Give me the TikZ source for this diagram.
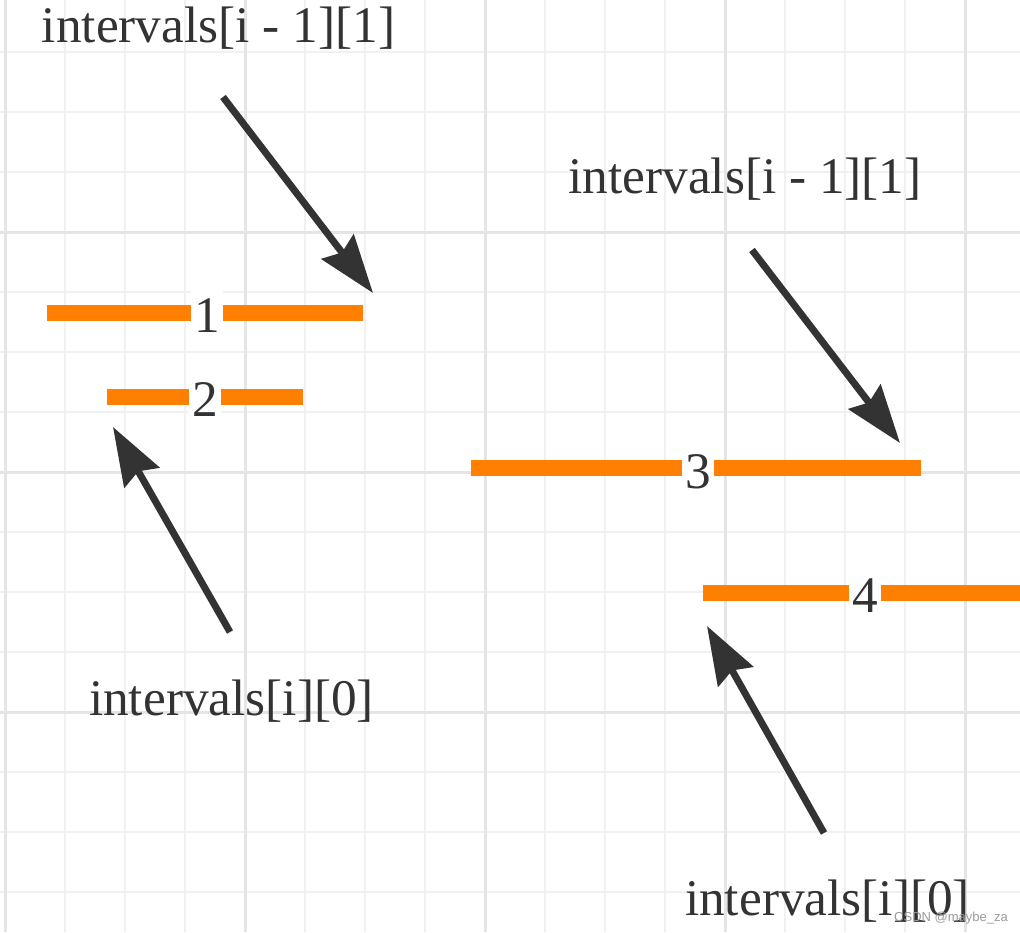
\documentclass[tikz,border=0pt]{standalone}
\usepackage{fontspec}
\setmainfont{Liberation Serif}
\newfontfamily\wmfont{Liberation Sans}
\usetikzlibrary{arrows.meta}
\definecolor{barorange}{HTML}{FF8000}
\definecolor{ink}{HTML}{333333}
\definecolor{gridminor}{HTML}{F1F1F1}
\definecolor{gridmajor}{HTML}{E5E5E5}
\definecolor{wmgray}{HTML}{9A9A9A}
\begin{document}
\begin{tikzpicture}[x=1pt,y=-1pt,
  minorline/.style={draw=gridminor, line width=2pt},
  majorline/.style={draw=gridmajor, line width=3pt},
  bar/.style={draw=barorange, line width=16pt},
  lbl/.style={fill=white, text=ink, font=\fontsize{51.3}{60}\selectfont,
    inner xsep=0pt, inner ysep=16pt, minimum width=32pt},
  caption/.style={text=ink, font=\fontsize{51.3}{60}\selectfont, anchor=base, inner sep=0pt},
  watermark/.style={text=wmgray, font=\wmfont\fontsize{13}{15}\selectfont, anchor=base, inner sep=0pt},
  pointer/.style={draw=ink, line width=7pt,
    -{Stealth[length=58pt,width=40pt,inset=7pt]}},
]
\useasboundingbox (0,0) rectangle (1020,932);
\fill[white] (0,0) rectangle (1020,932);
% grid
\foreach \x in {65,125,185,305,365,425,545,605,665,785,845,905}
  \draw[minorline] (\x,0) -- (\x,932);
\foreach \y in {52,112,172,292,352,412,532,592,652,772,832,892}
  \draw[minorline] (0,\y) -- (1020,\y);
\foreach \x in {5,245,485,725,965}
  \draw[majorline] (\x,0) -- (\x,932);
\foreach \y in {232,472,712}
  \draw[majorline] (0,\y) -- (1020,\y);

% intervals (orange bars)
\coordinate (b1l) at (47,313);  \coordinate (b1r) at (363,313);
\coordinate (b2l) at (107,396.5); \coordinate (b2r) at (303,396.5);
\coordinate (b3l) at (471,468); \coordinate (b3r) at (921,468);
\coordinate (b4l) at (703,593); \coordinate (b4r) at (1020,593);
\draw[bar] (b1l) -- (b1r);
\draw[bar] (b2l) -- (b2r);
\draw[bar] (b3l) -- (b3r);
\draw[bar] (b4l) -- (b4r);
\node[lbl] (n1) at (207,316) {1};
\node[lbl] (n2) at (205,400) {2};
\node[lbl] (n3) at (698,472) {3};
\node[lbl] (n4) at (865,596) {4};

% captions
\node[caption] (t1) at (218.5,42) {intervals[i - 1][1]};
\node[caption] (t2) at (745,193) {intervals[i - 1][1]};
\node[caption] (t3) at (231.5,715) {intervals[i][0]};
\node[caption] (t4) at (827.5,915) {intervals[i][0]};

% pointers
\coordinate (p1s) at (223,97);  \coordinate (p1e) at (373,293);
\coordinate (p2s) at (752,250); \coordinate (p2e) at (900,443);
\coordinate (p3s) at (230,632); \coordinate (p3e) at (113,427);
\coordinate (p4s) at (824,833); \coordinate (p4e) at (707,626);
\draw[pointer] (p1s) -- (p1e);
\draw[pointer] (p2s) -- (p2e);
\draw[pointer] (p3s) -- (p3e);
\draw[pointer] (p4s) -- (p4e);

% watermark
\node[watermark] (wm) at (951,921) {CSDN @maybe\_za};
\end{tikzpicture}
\end{document}
